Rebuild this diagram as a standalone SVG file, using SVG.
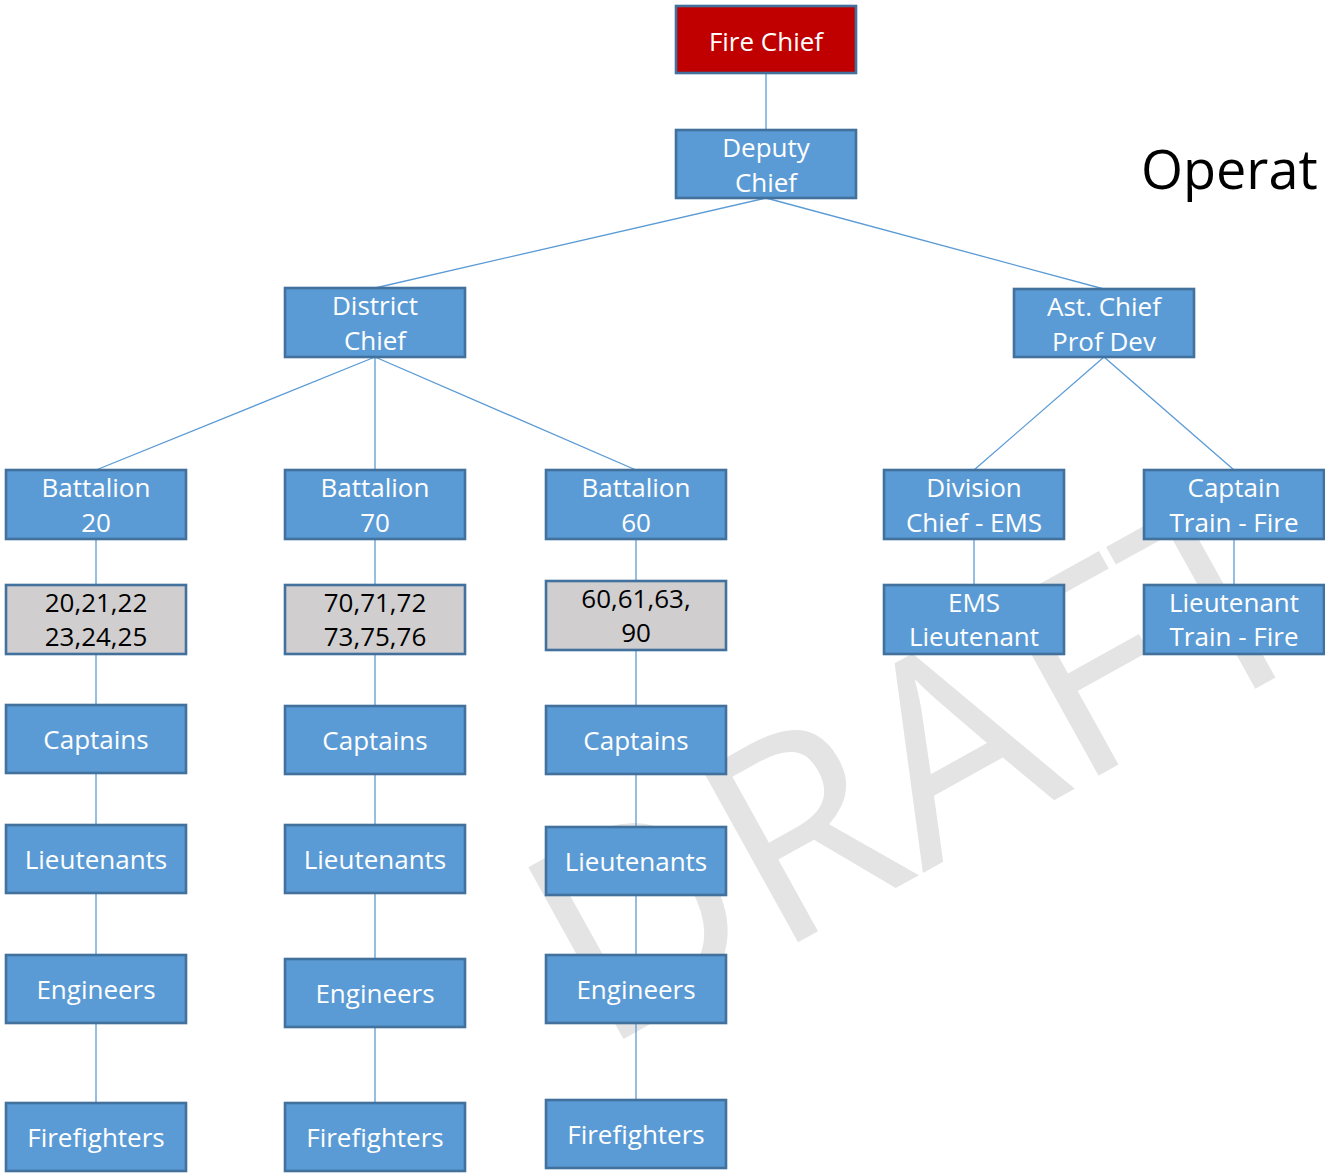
<svg xmlns="http://www.w3.org/2000/svg" width="1325" height="1173" viewBox="0 0 1325 1173">
<style>
.b{fill:#5b9bd5;stroke:#41719c;stroke-width:2.6}
.r{fill:#c00000;stroke:#41719c;stroke-width:2.6}
.g{fill:#d0cece;stroke:#41719c;stroke-width:2.6}
.t{font-family:"Open Sans","Noto Sans",sans-serif;font-size:26px;fill:#fff;text-anchor:middle}
.k{fill:#000}
.c line{stroke:#5b9bd5;stroke-width:1.3}
</style>
<rect width="1325" height="1173" fill="#fff"/>
<text id="watermark" transform="translate(600,1052) rotate(-29)" font-family="Open Sans,Noto Sans,sans-serif" font-size="275" fill="#e4e4e4">DRAFT</text>
<text id="title" x="1141" y="189" font-family="Open Sans,Noto Sans,sans-serif" font-size="54" fill="#000">Operat</text>
<g class="c" id="connectors">
<line x1="766" y1="73" x2="766" y2="130"/>
<line x1="766" y1="198" x2="375" y2="288"/>
<line x1="766" y1="198" x2="1104" y2="289"/>
<line x1="375" y1="357" x2="96" y2="470"/>
<line x1="375" y1="357" x2="375" y2="470"/>
<line x1="375" y1="357" x2="636" y2="470"/>
<line x1="1104" y1="357" x2="974" y2="470"/>
<line x1="1104" y1="357" x2="1234" y2="470"/>
<line x1="96" y1="539" x2="96" y2="1103"/>
<line x1="375" y1="539" x2="375" y2="1103"/>
<line x1="636" y1="539" x2="636" y2="1100"/>
<line x1="974" y1="539" x2="974" y2="585"/>
<line x1="1234" y1="539" x2="1234" y2="585"/>
</g>
<g id="fire-chief"><rect class="r" x="676" y="6" width="180" height="67"/><text class="t" x="766" y="51">Fire Chief</text></g>
<g id="deputy-chief"><rect class="b" x="676" y="130" width="180" height="68"/><text class="t" x="766" y="157">Deputy</text><text class="t" x="766" y="192">Chief</text></g>
<g id="district-chief"><rect class="b" x="285" y="288" width="180" height="69"/><text class="t" x="375" y="315">District</text><text class="t" x="375" y="350">Chief</text></g>
<g id="ast-chief"><rect class="b" x="1014" y="289" width="180" height="68"/><text class="t" x="1104" y="316">Ast. Chief</text><text class="t" x="1104" y="351">Prof Dev</text></g>
<g id="battalion-20"><rect class="b" x="6" y="470" width="180" height="69"/><text class="t" x="96" y="497">Battalion</text><text class="t" x="96" y="532">20</text></g>
<g id="battalion-70"><rect class="b" x="285" y="470" width="180" height="69"/><text class="t" x="375" y="497">Battalion</text><text class="t" x="375" y="532">70</text></g>
<g id="battalion-60"><rect class="b" x="546" y="470" width="180" height="69"/><text class="t" x="636" y="497">Battalion</text><text class="t" x="636" y="532">60</text></g>
<g id="division-chief-ems"><rect class="b" x="884" y="470" width="180" height="69"/><text class="t" x="974" y="497">Division</text><text class="t" x="974" y="532">Chief - EMS</text></g>
<g id="captain-train-fire"><rect class="b" x="1144" y="470" width="180" height="69"/><text class="t" x="1234" y="497">Captain</text><text class="t" x="1234" y="532">Train - Fire</text></g>
<g id="stations-20"><rect class="g" x="6" y="585" width="180" height="69"/><text class="t k" x="96" y="612">20,21,22</text><text class="t k" x="96" y="646">23,24,25</text></g>
<g id="stations-70"><rect class="g" x="285" y="585" width="180" height="69"/><text class="t k" x="375" y="612">70,71,72</text><text class="t k" x="375" y="646">73,75,76</text></g>
<g id="stations-60"><rect class="g" x="546" y="581" width="180" height="69"/><text class="t k" x="636" y="608">60,61,63,</text><text class="t k" x="636" y="642">90</text></g>
<g id="ems-lieutenant"><rect class="b" x="884" y="585" width="180" height="69"/><text class="t" x="974" y="612">EMS</text><text class="t" x="974" y="646">Lieutenant</text></g>
<g id="lieutenant-train-fire"><rect class="b" x="1144" y="585" width="180" height="69"/><text class="t" x="1234" y="612">Lieutenant</text><text class="t" x="1234" y="646">Train - Fire</text></g>
<g id="captains-20"><rect class="b" x="6" y="705" width="180" height="68"/><text class="t" x="96" y="749">Captains</text></g>
<g id="captains-70"><rect class="b" x="285" y="706" width="180" height="68"/><text class="t" x="375" y="750">Captains</text></g>
<g id="captains-60"><rect class="b" x="546" y="706" width="180" height="68"/><text class="t" x="636" y="750">Captains</text></g>
<g id="lieutenants-20"><rect class="b" x="6" y="825" width="180" height="68"/><text class="t" x="96" y="869">Lieutenants</text></g>
<g id="lieutenants-70"><rect class="b" x="285" y="825" width="180" height="68"/><text class="t" x="375" y="869">Lieutenants</text></g>
<g id="lieutenants-60"><rect class="b" x="546" y="827" width="180" height="68"/><text class="t" x="636" y="871">Lieutenants</text></g>
<g id="engineers-20"><rect class="b" x="6" y="955" width="180" height="68"/><text class="t" x="96" y="999">Engineers</text></g>
<g id="engineers-70"><rect class="b" x="285" y="959" width="180" height="68"/><text class="t" x="375" y="1003">Engineers</text></g>
<g id="engineers-60"><rect class="b" x="546" y="955" width="180" height="68"/><text class="t" x="636" y="999">Engineers</text></g>
<g id="firefighters-20"><rect class="b" x="6" y="1103" width="180" height="68"/><text class="t" x="96" y="1147">Firefighters</text></g>
<g id="firefighters-70"><rect class="b" x="285" y="1103" width="180" height="68"/><text class="t" x="375" y="1147">Firefighters</text></g>
<g id="firefighters-60"><rect class="b" x="546" y="1100" width="180" height="68"/><text class="t" x="636" y="1144">Firefighters</text></g>
</svg>
